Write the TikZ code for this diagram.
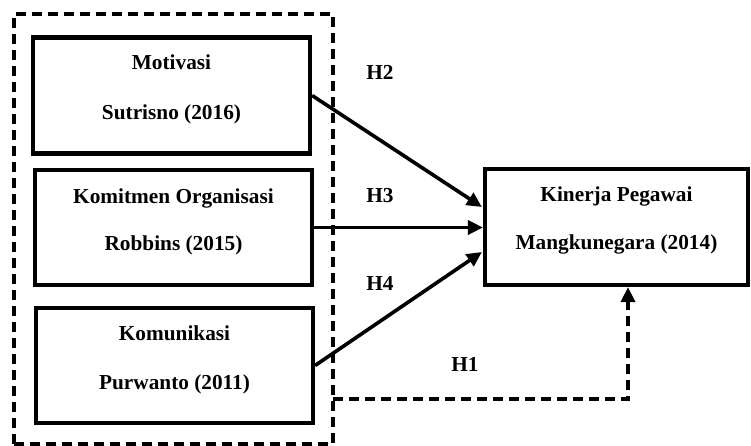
\documentclass[tikz,border=0pt]{standalone}
\usepackage{fontspec}
\setmainfont{Liberation Serif}
\usetikzlibrary{arrows.meta,calc}
\begin{document}
\begin{tikzpicture}[x=1pt,y=-1pt,
  box/.style={draw,line width=4.2pt,minimum width=277pt,minimum height=116pt,inner sep=0pt},
  txt/.style={font=\fontsize{21.3}{24}\selectfont\bfseries,anchor=base,inner sep=0pt},
  arr/.style={line width=3.6pt,-{Triangle[length=15pt,width=14pt]}},
  dsh/.style={line width=3.6pt,dash pattern=on 10pt off 6pt}]
\useasboundingbox (0,0) rectangle (751,446);
\node[draw,line width=3.6pt,dash pattern=on 10pt off 6pt,minimum width=319pt,minimum height=430pt,inner sep=0pt] (grp) at (173.5,229) {};
\node[box] (m) at (171.5,95.5) {};
\node[box,minimum height=115pt] (r) at (173.5,227.5) {};
\node[box,minimum height=115pt] (c) at (174.5,365.5) {};
\node[box,minimum width=263pt] (k) at (616.5,227) {};
\node[txt] (m1) at (171.5,70) {Motivasi};
\node[txt] (m2) at (171.5,120) {Sutrisno (2016)};
\node[txt] (r1) at (173.5,204) {Komitmen Organisasi};
\node[txt] (r2) at (173.5,250) {Robbins (2015)};
\node[txt] (c1) at (174.5,340) {Komunikasi};
\node[txt] (c2) at (174.5,389) {Purwanto (2011)};
\node[txt] (k1) at (616.5,201) {Kinerja Pegawai};
\node[txt] (k2) at (616.5,249) {Mangkunegara (2014)};
\node[txt] (h2) at (380,80) {H2};
\node[txt] (h3) at (380,203) {H3};
\node[txt] (h4) at (380,290) {H4};
\node[txt] (h1) at (465,371) {H1};
\coordinate (h1s) at (333,399);
\coordinate (h1c) at (628,399);
\draw[arr] (m.east) -- ($(k.west)+(-1,-20)$);
\draw[arr] (r.east) -- (k.west |- r.east);
\draw[arr] (c.east) -- ($(k.west)+(-1,25)$);
\draw[dsh,-{Triangle[length=15pt,width=14pt]}] (h1s) -- (h1c) -- (k.south -| h1c);
\end{tikzpicture}
\end{document}
